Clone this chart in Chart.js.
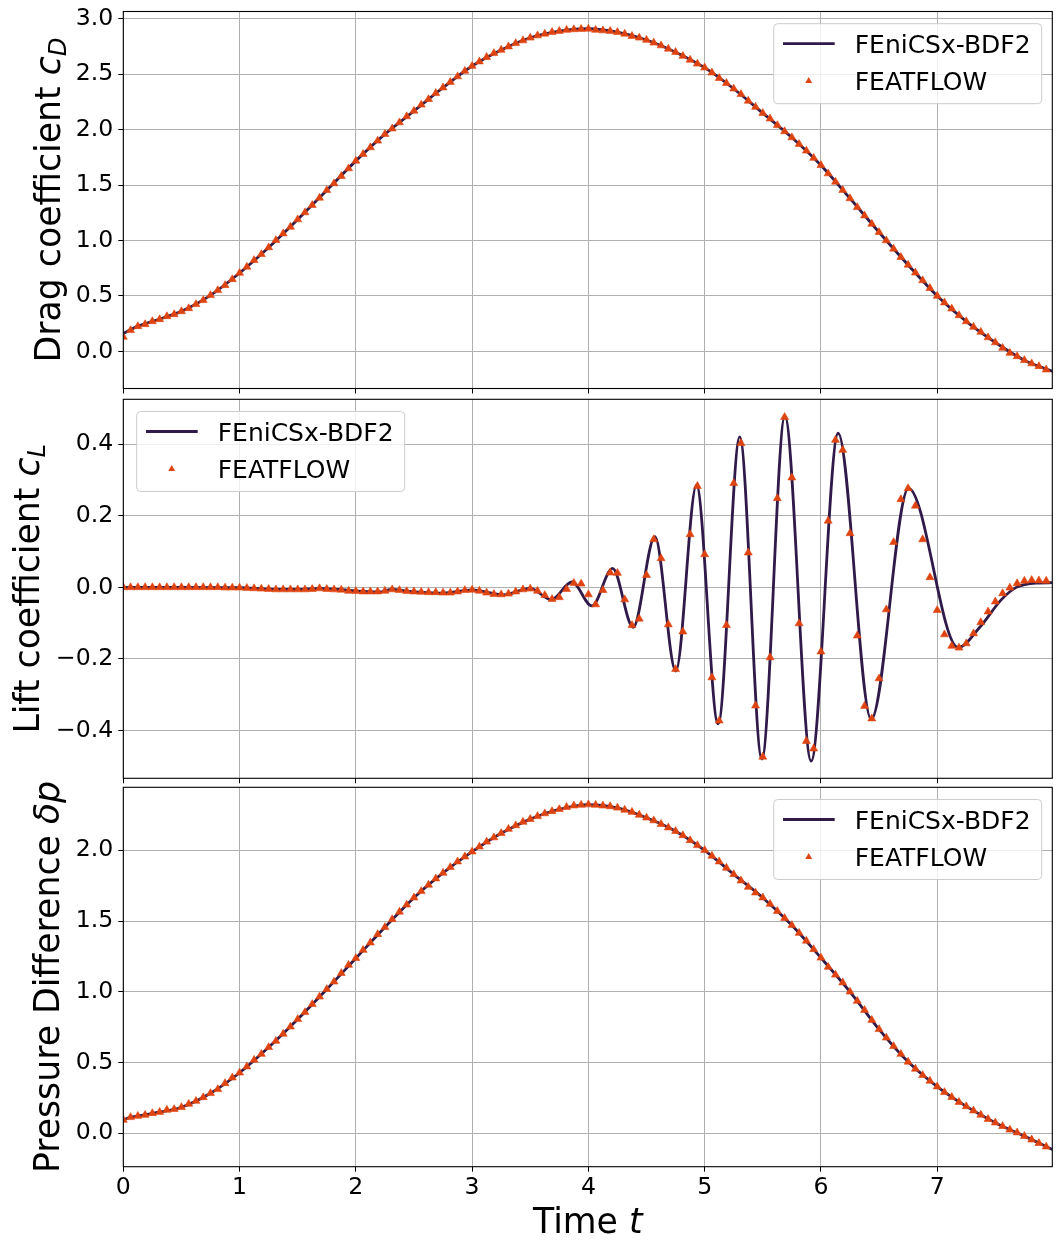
<!DOCTYPE html>
<html><head><meta charset="utf-8">
<script src="https://cdn.jsdelivr.net/npm/chart.js@4.4.0/dist/chart.umd.min.js"></script>
<style>
html,body{margin:0;padding:0;background:#fff;}
#wrap{position:relative;width:1063px;height:1249px;overflow:hidden;background:#fff;}
canvas{position:absolute;left:0;}
</style></head><body><div id="wrap">
<canvas id="c1"></canvas><canvas id="c2"></canvas><canvas id="c3"></canvas></div>
<script>
// ---------------- data ----------------
const xTicks = [0,1,2,3,4,5,6,7];
const dragTicks = [0,0.5,1,1.5,2,2.5,3];
const liftTicks = [-0.4,-0.2,0,0.2,0.4];
const pressureTicks = [0,0.5,1,1.5,2];
const seriesLabels = ['FEniCSx-BDF2','FEATFLOW'];

// FEATFLOW sample times
const featTime = [
0,0.0625,0.125,0.1875,0.25,0.3125,0.375,0.4375,0.5,0.5625,0.625,0.6875,0.75,0.8125,0.875,0.9375,
1,1.0625,1.125,1.1875,1.25,1.3125,1.375,1.4375,1.5,1.5625,1.625,1.6875,1.75,1.8125,1.875,1.9375,
2,2.0625,2.125,2.1875,2.25,2.3125,2.375,2.4375,2.5,2.5625,2.625,2.6875,2.75,2.8125,2.875,2.9375,
3,3.0625,3.125,3.1875,3.25,3.3125,3.375,3.4375,3.5,3.5625,3.625,3.6875,3.75,3.8125,3.875,3.9375,
4,4.0625,4.125,4.1875,4.25,4.3125,4.375,4.4375,4.5,4.5625,4.625,4.6875,4.75,4.8125,4.875,4.9375,
5,5.0625,5.125,5.1875,5.25,5.3125,5.375,5.4375,5.5,5.5625,5.625,5.6875,5.75,5.8125,5.875,5.9375,
6,6.0625,6.125,6.1875,6.25,6.3125,6.375,6.4375,6.5,6.5625,6.625,6.6875,6.75,6.8125,6.875,6.9375,
7,7.0625,7.125,7.1875,7.25,7.3125,7.375,7.4375,7.5,7.5625,7.625,7.6875,7.75,7.8125,7.875,7.9375];

const dragFeat = [
0.13,0.19,0.226,0.244,0.271,0.289,0.316,0.334,0.361,0.388,0.425,0.461,0.506,0.551,0.596,0.650,
0.707,0.762,0.822,0.876,0.937,1.003,1.063,1.123,1.190,1.253,1.319,1.385,1.454,1.515,1.581,1.650,
1.719,1.78,1.84,1.90,1.96,2.01,2.065,2.12,2.17,2.225,2.275,2.33,2.38,2.43,2.48,2.53,
2.575,2.615,2.655,2.69,2.72,2.75,2.78,2.805,2.83,2.85,2.865,2.88,2.89,2.90,2.905,2.908,
2.91,2.90,2.895,2.89,2.88,2.865,2.845,2.83,2.81,2.785,2.76,2.73,2.70,2.665,2.63,2.595,
2.56,2.515,2.465,2.42,2.37,2.32,2.26,2.205,2.15,2.10,2.04,1.985,1.93,1.87,1.81,1.745,
1.68,1.605,1.53,1.455,1.38,1.30,1.225,1.15,1.075,1.00,0.925,0.85,0.78,0.71,0.64,0.57,
0.50,0.44,0.385,0.325,0.27,0.22,0.175,0.125,0.08,0.03,-0.015,-0.045,-0.08,-0.11,-0.135,-0.165];

const liftFeat = [
0,0,0,0,0,0,0,0,0,0,0,0,0,0,-0.001,-0.001,
-0.001,-0.002,-0.003,-0.004,-0.005,-0.006,-0.006,-0.006,-0.006,-0.006,-0.005,-0.003,-0.005,-0.006,-0.007,-0.010,
-0.011,-0.012,-0.012,-0.012,-0.010,-0.006,-0.008,-0.011,-0.012,-0.013,-0.014,-0.014,-0.015,-0.015,-0.012,-0.008,
-0.007,-0.010,-0.015,-0.019,-0.020,-0.018,-0.012,-0.006,-0.004,-0.010,-0.022,-0.033,-0.028,-0.005,0.012,0.010,
-0.020,-0.048,-0.008,0.041,0.040,-0.034,-0.106,-0.088,0.034,0.134,0.081,-0.104,-0.229,-0.124,0.148,0.283,
0.092,-0.252,-0.373,-0.106,0.291,0.403,0.097,-0.331,-0.474,-0.196,0.249,0.476,0.307,-0.101,-0.430,-0.451,
-0.180,0.186,0.412,0.384,0.151,-0.135,-0.332,-0.367,-0.255,-0.062,0.126,0.246,0.277,0.228,0.134,0.028,
-0.064,-0.132,-0.164,-0.169,-0.157,-0.129,-0.098,-0.068,-0.040,-0.017,-0.001,0.011,0.018,0.020,0.019,0.018];

const pressureFeat = [
0.094,0.113,0.122,0.129,0.141,0.150,0.165,0.170,0.184,0.207,0.228,0.254,0.283,0.311,0.353,0.393,
0.428,0.471,0.518,0.560,0.608,0.652,0.702,0.753,0.806,0.855,0.912,0.965,1.018,1.071,1.131,1.189,
1.237,1.295,1.347,1.406,1.456,1.512,1.565,1.615,1.665,1.71,1.755,1.80,1.84,1.88,1.92,1.955,
1.99,2.025,2.06,2.09,2.12,2.15,2.175,2.20,2.22,2.24,2.26,2.275,2.29,2.305,2.315,2.32,
2.323,2.32,2.315,2.31,2.30,2.285,2.27,2.25,2.23,2.21,2.185,2.16,2.135,2.105,2.07,2.035,
2.0,1.96,1.92,1.875,1.83,1.785,1.74,1.70,1.665,1.62,1.57,1.52,1.47,1.415,1.36,1.30,
1.24,1.175,1.12,1.065,1.0,0.935,0.87,0.80,0.735,0.675,0.615,0.56,0.505,0.455,0.41,0.37,
0.33,0.29,0.255,0.22,0.19,0.16,0.13,0.10,0.075,0.05,0.025,0.005,-0.02,-0.045,-0.07,-0.095];

// FEniCSx-BDF2 curve samples
const smoothTime = [0,0.0625,0.125,0.25,0.5,0.75,1,1.25,1.5,1.75,2,2.25,2.5,2.75,3,3.25,3.5,3.75,
4,4.25,4.5,4.75,5,5.25,5.5,5.75,6,6.25,6.5,6.75,7,7.25,7.5,7.75,7.99];
const dragFenics = [0.16,0.195,0.228,0.271,0.361,0.506,0.707,0.937,1.19,1.454,1.719,1.96,2.17,2.38,2.575,2.72,2.83,2.89,
2.912,2.88,2.81,2.70,2.56,2.37,2.15,1.93,1.68,1.38,1.075,0.78,0.50,0.27,0.08,-0.08,-0.18];
const pressureFenics = [0.095,0.112,0.122,0.141,0.184,0.283,0.428,0.608,0.806,1.018,1.237,1.456,1.665,1.84,1.99,2.12,2.22,2.29,
2.323,2.30,2.23,2.135,2.0,1.83,1.665,1.47,1.24,1.0,0.735,0.505,0.33,0.19,0.075,-0.02,-0.114];
const liftTime = [0,0.5,1.0,1.25,1.5,1.69,1.85,2.05,2.2,2.31,2.45,2.75,3.0,3.27,3.5,3.68,3.86,4.03,
4.208,4.385,4.572,4.752,4.930,5.116,5.302,5.492,5.690,5.916,6.148,6.432,6.753,7.180,7.37,7.55,7.68,7.85,7.99];
const liftFenics = [0,0,-0.001,-0.005,-0.006,-0.003,-0.006,-0.011,-0.013,-0.006,-0.011,-0.016,-0.007,-0.021,-0.003,-0.034,0.015,-0.052,
0.053,-0.112,0.142,-0.234,0.286,-0.382,0.421,-0.480,0.478,-0.486,0.431,-0.369,0.277,-0.168,-0.11,-0.035,0.0,0.012,0.013];

// ---------------- style ----------------
const FONT = '"DejaVu Sans", "Liberation Sans", sans-serif';
const LINE_COLOR = '#2f1a4a';
const MARK_COLOR = '#df4410';
const TICK_SIZE = 23.6;
const LEGEND_SIZE = 25;
const LABEL_SIZE = 34.7;
const AREA_LEFT = 123.3, AREA_RIGHT = 1052.3, W = 1063;

function fmt(v){ const s = Math.abs(v) < 1e-9 ? '0.0' : v.toFixed(1); return s.replace('-', '\u2212'); }

function drawParts(ctx, parts, x, y, rot){
  ctx.save();
  ctx.translate(x, y); ctx.rotate(rot);
  const fontOf = p => (p.it ? 'italic ' : '') + p.sz + 'px ' + FONT;
  let total = 0;
  parts.forEach(p => { ctx.font = fontOf(p); p.w = ctx.measureText(p.t).width; total += p.w; });
  let cx = -total / 2;
  ctx.fillStyle = '#000'; ctx.textBaseline = 'alphabetic'; ctx.textAlign = 'left';
  parts.forEach(p => { ctx.font = fontOf(p); ctx.fillText(p.t, cx, p.dy || 0); cx += p.w; });
  ctx.restore();
}

function makeChart(id, cfg){
  const canvas = document.getElementById(id);
  canvas.width = W; canvas.height = cfg.h;
  canvas.style.top = cfg.top + 'px'; canvas.style.width = W + 'px'; canvas.style.height = cfg.h + 'px';

  const decor = {
    id: 'decor' + id,
    afterDatasetsDraw(chart){
      const ctx = chart.ctx, a = chart.chartArea;
      ctx.save(); ctx.strokeStyle = '#000'; ctx.lineWidth = 1.1;
      ctx.strokeRect(a.left, a.top, a.right - a.left, a.bottom - a.top); ctx.restore();
      const lw = 268, lh = 80;
      const lx = cfg.legendSide === 'right' ? a.right - 10.6 - lw : a.left + 13.4;
      const ly = a.top + 12.2;
      ctx.save();
      ctx.beginPath();
      if (ctx.roundRect) ctx.roundRect(lx, ly, lw, lh, 4); else ctx.rect(lx, ly, lw, lh);
      ctx.fillStyle = 'rgba(255,255,255,0.8)'; ctx.fill();
      ctx.strokeStyle = '#cccccc'; ctx.lineWidth = 1; ctx.stroke();
      const r1 = ly + 20, r2 = ly + 57.4;
      ctx.beginPath(); ctx.moveTo(lx + 9.3, r1); ctx.lineTo(lx + 61, r1);
      ctx.strokeStyle = LINE_COLOR; ctx.lineWidth = 2.8; ctx.stroke();
      const tr = 4.0, tx = lx + 35, ty = r2;
      ctx.beginPath();
      ctx.moveTo(tx, ty - tr); ctx.lineTo(tx + tr * 0.866, ty + tr * 0.5); ctx.lineTo(tx - tr * 0.866, ty + tr * 0.5); ctx.closePath();
      ctx.fillStyle = MARK_COLOR; ctx.fill();
      ctx.fillStyle = '#000'; ctx.font = LEGEND_SIZE + 'px ' + FONT; ctx.textBaseline = 'alphabetic'; ctx.textAlign = 'left';
      const ds = chart.data.datasets;
      ctx.fillText(ds[0].label, lx + 81, r1 + 9.1);
      ctx.fillText(ds[1].label, lx + 81, r2 + 9.1);
      ctx.restore();
    },
    afterDraw(chart){
      const a = chart.chartArea, ctx = chart.ctx;
      drawParts(ctx, cfg.yTitle, cfg.yTitleX, (a.top + a.bottom) / 2, -Math.PI / 2);
      if (cfg.xTitle) drawParts(ctx, cfg.xTitle, (a.left + a.right) / 2, cfg.xTitleY, 0);
    }
  };

  return new Chart(canvas, {
    type: 'line',
    data: { datasets: [
      { label: seriesLabels[0], data: cfg.lineT.map((t, i) => ({x: t, y: cfg.lineY[i]})),
        borderColor: LINE_COLOR, backgroundColor: LINE_COLOR, borderWidth: 2.8, pointRadius: 0,
        cubicInterpolationMode: 'monotone', fill: false, order: 1 },
      { label: seriesLabels[1], data: featTime.map((t, i) => ({x: t, y: cfg.markY[i]})),
        showLine: false, pointStyle: 'triangle', pointRadius: 4.6, pointBorderWidth: 0.6,
        pointBackgroundColor: MARK_COLOR, pointBorderColor: MARK_COLOR, borderColor: MARK_COLOR, order: 0 }
    ]},
    options: {
      responsive: false, animation: false, devicePixelRatio: 1,
      layout: { padding: { top: cfg.areaTop, right: W - AREA_RIGHT, left: 0, bottom: 0 } },
      plugins: { legend: { display: false }, tooltip: { enabled: false }, title: { display: false } },
      scales: {
        x: {
          type: 'linear', min: 0, max: 7.99,
          afterBuildTicks: s => { s.ticks = xTicks.map(v => ({value: v})); },
          afterFit: s => { s.height = cfg.h - cfg.areaBottom; s.paddingLeft = 0; s.paddingRight = 0; },
          grid: { color: '#b0b0b0', lineWidth: 1, tickColor: '#000', tickLength: 5, drawTicks: true },
          border: { display: false },
          ticks: { display: !!cfg.xLabels, color: '#000', font: { family: FONT, size: TICK_SIZE },
                   padding: 2, maxRotation: 0, autoSkip: false, callback: v => String(v) }
        },
        y: {
          type: 'linear', min: cfg.yMin, max: cfg.yMax,
          afterBuildTicks: s => { s.ticks = cfg.yTicks.map(v => ({value: v})); },
          afterFit: s => { s.width = AREA_LEFT; s.paddingTop = 0; s.paddingBottom = 0; },
          grid: { color: '#b0b0b0', lineWidth: 1, tickColor: '#000', tickLength: 5, drawTicks: true },
          border: { display: false },
          ticks: { color: '#000', font: { family: FONT, size: TICK_SIZE }, padding: 5, autoSkip: false,
                   callback: v => fmt(v) }
        }
      }
    },
    plugins: [decor]
  });
}

makeChart('c1', { top: 0, h: 396, areaTop: 11.5, areaBottom: 388.5, yMin: -0.335, yMax: 3.067,
  yTicks: dragTicks, lineT: smoothTime, lineY: dragFenics, markY: dragFeat, legendSide: 'right',
  yTitleX: 59.5,
  yTitle: [{t: 'Drag coefficient ', sz: LABEL_SIZE}, {t: 'c', sz: LABEL_SIZE, it: true}, {t: 'D', sz: LABEL_SIZE * 0.7, it: true, dy: 6}] });

makeChart('c2', { top: 394, h: 392, areaTop: 5.3, areaBottom: 384.3, yMin: -0.534, yMax: 0.526,
  yTicks: liftTicks, lineT: liftTime, lineY: liftFenics, markY: liftFeat, legendSide: 'left',
  yTitleX: 38.5,
  yTitle: [{t: 'Lift coefficient ', sz: LABEL_SIZE}, {t: 'c', sz: LABEL_SIZE, it: true}, {t: 'L', sz: LABEL_SIZE * 0.7, it: true, dy: 6}] });

makeChart('c3', { top: 780, h: 469, areaTop: 7.3, areaBottom: 386.7, yMin: -0.236, yMax: 2.445,
  yTicks: pressureTicks, lineT: smoothTime, lineY: pressureFenics, markY: pressureFeat, legendSide: 'right',
  yTitleX: 58.5, xLabels: true, xTitleY: 453,
  yTitle: [{t: 'Pressure Difference ', sz: LABEL_SIZE}, {t: '\u03b4p', sz: LABEL_SIZE, it: true}],
  xTitle: [{t: 'Time ', sz: LABEL_SIZE}, {t: 't', sz: LABEL_SIZE, it: true}] });
</script></body></html>
